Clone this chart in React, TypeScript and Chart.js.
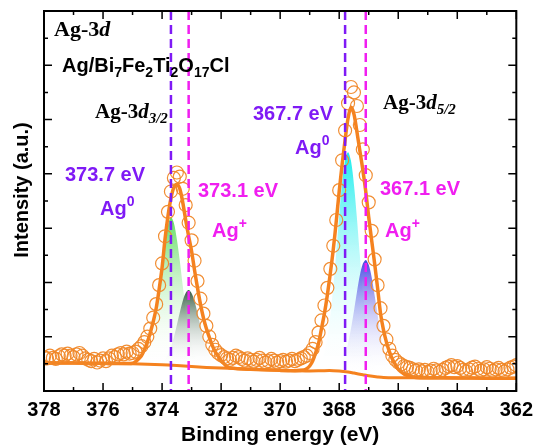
import React, { useEffect, useRef } from 'react';
import { Chart, registerables } from 'chart.js';

Chart.register(...registerables);

const SANS = '"Liberation Sans", Arial, Helvetica, sans-serif';
const SERIF = '"Liberation Serif", "Times New Roman", serif';
const ORANGE = '#F5821F';
const VIOLET = '#7F1AF5';
const MAGENTA = '#F01EF0';

// axis ranges (binding energy reversed)
const X_MIN = 362;
const X_MAX = 378;
const Y_MIN = 0;
const Y_MAX = 14;
const X_TICK_STEP = 2;

// raw XPS counts (open circles), 0.1 eV grid from 378.0 eV down to 362.0 eV
const RAW_START = 378.0;
const RAW_STEP = 0.1;
const rawIntensity = [
  1.25, 1.2, 1.3, 1.22, 1.18, 1.28, 1.35, 1.3, 1.38, 1.3,
  1.25, 1.35, 1.4, 1.3, 1.2, 1.15, 1.1, 1.18, 1.05, 1.12,
  1.2, 1.1, 1.2, 1.3, 1.25, 1.35, 1.4, 1.35, 1.45, 1.38,
  1.4, 1.45, 1.55, 1.65, 1.8, 2.0, 2.3, 2.7, 3.2, 3.9,
  4.7, 5.7, 6.6, 7.35, 7.85, 8.05, 7.9, 7.45, 6.85, 6.2,
  5.55, 4.8, 4.05, 3.4, 2.85, 2.4, 2.0, 1.7, 1.52, 1.4,
  1.32, 1.25, 1.2, 1.15, 1.22, 1.3, 1.25, 1.18, 1.12, 1.2,
  1.15, 1.08, 1.15, 1.22, 1.12, 1.05, 1.1, 1.18, 1.12, 1.05,
  1.1, 1.15, 1.08, 1.12, 1.18, 1.1, 1.15, 1.2, 1.25, 1.3,
  1.4, 1.55, 1.8, 2.15, 2.6, 3.15, 3.8, 4.5, 5.35, 6.3,
  7.4, 8.5, 9.6, 10.6, 11.2, 11.0, 10.5, 9.8, 8.9, 7.95,
  6.95, 5.9, 4.85, 3.9, 3.05, 2.4, 1.9, 1.55, 1.3, 1.15,
  1.05, 0.98, 0.92, 0.88, 0.85, 0.8, 0.75, 0.8, 0.72, 0.78,
  0.7, 0.75, 0.82, 0.76, 0.7, 0.78, 0.85, 0.9, 0.95, 0.88,
  0.92, 0.85, 0.78, 0.72, 0.8, 0.86, 0.9, 0.82, 0.75, 0.8,
  0.88, 0.82, 0.74, 0.8, 0.85, 0.78, 0.72, 0.8, 0.86, 0.9,
  0.95,
];

// fitted envelope (thick orange line)
const envelopeEnergy = [
  378, 377, 376, 375.5, 375.2,
  375.0, 374.9, 374.8, 374.7, 374.6, 374.5, 374.4, 374.3, 374.2, 374.1,
  374.0, 373.9, 373.8, 373.7, 373.6, 373.5, 373.4, 373.3, 373.2, 373.1,
  373.0, 372.9, 372.8, 372.7, 372.6, 372.5, 372.4, 372.3, 372.2, 372.1,
  372.0, 371.9, 371.8, 371.7, 371, 370, 369.5,
  369.2, 369.1, 369.0, 368.9, 368.8, 368.7, 368.6, 368.5, 368.4, 368.3,
  368.2, 368.1, 368.0, 367.9, 367.8, 367.7, 367.6, 367.5, 367.4, 367.3,
  367.2, 367.1, 367.0, 366.9, 366.8, 366.7, 366.6, 366.5, 366.4, 366.3,
  366.2, 366.1, 366.0, 365.9, 365.8, 365.6, 365.4, 365, 364, 363, 362,
];
const envelopeIntensity = [
  1.03, 1.03, 1.02, 1.01, 1.01,
  1.02, 1.08, 1.18, 1.3, 1.52, 1.8, 2.15, 2.55, 3.05, 3.75,
  4.55, 5.6, 6.45, 7.1, 7.5, 7.62, 7.45, 6.95, 6.3, 5.7,
  5.15, 4.45, 3.8, 3.2, 2.7, 2.3, 1.98, 1.68, 1.45, 1.28,
  1.12, 1.0, 0.9, 0.85, 0.8, 0.76, 0.75,
  0.77, 0.82, 0.92, 1.1, 1.4, 1.75, 2.3, 2.86, 3.55, 4.35,
  5.22, 6.25, 7.35, 8.35, 9.25, 10.05, 10.45, 10.2, 9.55, 8.85,
  8.15, 7.35, 6.4, 5.55, 4.7, 3.8, 2.86, 2.25, 1.8, 1.45,
  1.18, 0.98, 0.8, 0.7, 0.62, 0.54, 0.5, 0.49, 0.48, 0.47, 0.47,
];

// Shirley background
const backgroundEnergy = [
  378, 377, 376, 375, 374, 373.5, 373, 372.5, 372, 371, 370, 369.5, 369,
  368.5, 368.2, 368, 367.7, 367.5, 367.2, 367, 366.7, 366.5, 366, 365, 364, 363, 362,
];
const backgroundIntensity = [
  1.03, 1.03, 1.02, 1.0, 0.97, 0.94, 0.9, 0.87, 0.85, 0.8, 0.76, 0.75, 0.74,
  0.75, 0.75, 0.74, 0.7, 0.66, 0.6, 0.56, 0.52, 0.5, 0.49, 0.48, 0.48, 0.47, 0.47,
];

// Ag0 component of Ag-3d3/2 (373.7 eV)
const ag0D32Energy = [
  374.7, 374.6, 374.5, 374.4, 374.3, 374.2, 374.1, 374.0, 373.9, 373.8, 373.7,
  373.6, 373.5, 373.4, 373.3, 373.2, 373.1, 373.0, 372.9, 372.8, 372.7, 372.6,
];
const ag0D32Intensity = [
  1.05, 1.15, 1.35, 1.65, 2.1, 2.75, 3.55, 4.4, 5.4, 6.1, 6.4,
  6.19, 5.6, 4.8, 3.88, 3.02, 2.28, 1.72, 1.35, 1.13, 1.0, 0.9,
];

// Ag+ component of Ag-3d3/2 (373.1 eV)
const agPD32Energy = [
  374.1, 374.0, 373.9, 373.8, 373.7, 373.6, 373.5, 373.4, 373.3, 373.2, 373.1,
  373.0, 372.9, 372.8, 372.7, 372.6, 372.5, 372.4, 372.3, 372.2, 372.1,
];
const agPD32Intensity = [
  1.02, 1.08, 1.17, 1.35, 1.62, 1.98, 2.43, 2.89, 3.32, 3.61, 3.72,
  3.6, 3.31, 2.87, 2.4, 1.95, 1.57, 1.3, 1.11, 0.98, 0.92,
];

// Ag0 component of Ag-3d5/2 (367.7 eV)
const ag0D52Energy = [
  368.7, 368.6, 368.5, 368.4, 368.3, 368.2, 368.1, 368.0, 367.9, 367.8, 367.7,
  367.6, 367.5, 367.4, 367.3, 367.2, 367.1, 367.0, 366.9, 366.8, 366.7,
];
const ag0D52Intensity = [
  0.92, 1.11, 1.44, 1.97, 2.77, 3.84, 5.11, 6.47, 7.67, 8.51, 8.8,
  8.47, 7.6, 6.37, 4.99, 3.69, 2.6, 1.78, 1.24, 0.89, 0.69,
];

// Ag+ component of Ag-3d5/2 (367.1 eV)
const agPD52Energy = [
  368.1, 368.0, 367.9, 367.8, 367.7, 367.6, 367.5, 367.4, 367.3, 367.2, 367.1,
  367.0, 366.9, 366.8, 366.7, 366.6, 366.5, 366.4, 366.3, 366.2, 366.1,
];
const agPD52Intensity = [
  0.83, 0.93, 1.09, 1.36, 1.76, 2.3, 2.95, 3.64, 4.26, 4.69, 4.83,
  4.65, 4.19, 3.53, 2.81, 2.13, 1.56, 1.14, 0.86, 0.68, 0.58,
];

// dashed reference positions (eV)
const ag0Lines = [373.7, 367.8];
const agPlusLines = [373.1, 367.1];

const toPoints = (xs: number[], ys: number[]) => xs.map((x, i) => ({ x, y: ys[i] }));

function gradientFill(topColor: string, vals: number[]) {
  return (ctx: any) => {
    const chart = ctx.chart;
    if (!chart.chartArea) return 'rgba(0,0,0,0)';
    const y = chart.scales.y;
    const yTop = y.getPixelForValue(Math.max(...vals));
    const yBot = y.getPixelForValue(Math.min(...vals));
    const g = chart.ctx.createLinearGradient(0, yTop, 0, yBot);
    g.addColorStop(0, topColor);
    g.addColorStop(1, 'rgba(255,255,255,0)');
    return g;
  };
}

type Run = { t: string; font: string; dy?: number };
function drawRuns(ctx: CanvasRenderingContext2D, x: number, y: number, runs: Run[], color: string) {
  ctx.save();
  ctx.fillStyle = color;
  ctx.textAlign = 'left';
  ctx.textBaseline = 'alphabetic';
  let cx = x;
  for (const r of runs) {
    ctx.font = r.font;
    ctx.fillText(r.t, cx, y + (r.dy || 0));
    cx += ctx.measureText(r.t).width;
  }
  ctx.restore();
}

const framePlugin = {
  id: 'frameAndMarks',
  afterDatasetsDraw(chart: any) {
    const { ctx, chartArea: a, scales } = chart;
    const xs = scales.x;
    const ys = scales.y;
    ctx.save();
    // dashed reference lines
    ctx.lineWidth = 2.5;
    ctx.setLineDash([9, 5]);
    const drawV = (e: number, c: string) => {
      const px = xs.getPixelForValue(e);
      ctx.strokeStyle = c;
      ctx.beginPath();
      ctx.moveTo(px, a.top);
      ctx.lineTo(px, a.bottom);
      ctx.stroke();
    };
    ag0Lines.forEach((e) => drawV(e, VIOLET));
    agPlusLines.forEach((e) => drawV(e, MAGENTA));
    ctx.setLineDash([]);
    // frame
    ctx.strokeStyle = '#000';
    ctx.lineWidth = 2;
    ctx.strokeRect(a.left, a.top, a.right - a.left, a.bottom - a.top);
    // inward ticks
    ctx.lineWidth = 1.5;
    ctx.beginPath();
    for (let v = X_MIN; v <= X_MAX; v += 1) {
      const px = xs.getPixelForValue(v);
      const len = v % 2 === 0 ? 8 : 4;
      ctx.moveTo(px, a.bottom);
      ctx.lineTo(px, a.bottom - len);
      ctx.moveTo(px, a.top);
      ctx.lineTo(px, a.top + len);
    }
    for (let v = Y_MIN; v <= Y_MAX; v += 1) {
      const py = ys.getPixelForValue(v);
      const len = v % 2 === 0 ? 8 : 4;
      ctx.moveTo(a.left, py);
      ctx.lineTo(a.left + len, py);
      ctx.moveTo(a.right, py);
      ctx.lineTo(a.right - len, py);
    }
    ctx.stroke();
    ctx.restore();
  },
  afterDraw(chart: any) {
    const ctx: CanvasRenderingContext2D = chart.ctx;
    const B = (s: number) => `bold ${s}px ${SANS}`;
    const S = (s: number) => `bold ${s}px ${SERIF}`;
    const SI = (s: number) => `italic bold ${s}px ${SERIF}`;
    drawRuns(ctx, 54, 36, [{ t: 'Ag-3', font: S(22) }, { t: 'd', font: SI(22) }], '#000');
    drawRuns(ctx, 62, 72, [
      { t: 'Ag/Bi', font: B(20) }, { t: '7', font: B(14), dy: 5 },
      { t: 'Fe', font: B(20) }, { t: '2', font: B(14), dy: 5 },
      { t: 'Ti', font: B(20) }, { t: '2', font: B(14), dy: 5 },
      { t: 'O', font: B(20) }, { t: '17', font: B(14), dy: 5 },
      { t: 'Cl', font: B(20) },
    ], '#000');
    drawRuns(ctx, 95, 118, [{ t: 'Ag-3', font: S(21) }, { t: 'd', font: SI(21) }, { t: '3/2', font: SI(15), dy: 5 }], '#000');
    drawRuns(ctx, 383, 109, [{ t: 'Ag-3', font: S(21) }, { t: 'd', font: SI(21) }, { t: '5/2', font: SI(15), dy: 5 }], '#000');
    drawRuns(ctx, 65, 181, [{ t: '373.7 eV', font: B(20) }], VIOLET);
    drawRuns(ctx, 100, 215, [{ t: 'Ag', font: B(20) }, { t: '0', font: B(14), dy: -9 }], VIOLET);
    drawRuns(ctx, 198, 197, [{ t: '373.1 eV', font: B(20) }], MAGENTA);
    drawRuns(ctx, 212, 237, [{ t: 'Ag', font: B(20) }, { t: '+', font: B(14), dy: -9 }], MAGENTA);
    drawRuns(ctx, 253, 120, [{ t: '367.7 eV', font: B(20) }], VIOLET);
    drawRuns(ctx, 295, 154, [{ t: 'Ag', font: B(20) }, { t: '0', font: B(14), dy: -9 }], VIOLET);
    drawRuns(ctx, 380, 195, [{ t: '367.1 eV', font: B(20) }], MAGENTA);
    drawRuns(ctx, 385, 237, [{ t: 'Ag', font: B(20) }, { t: '+', font: B(14), dy: -9 }], MAGENTA);
    // y-axis title
    ctx.save();
    ctx.translate(22, 190);
    ctx.rotate(-Math.PI / 2);
    ctx.font = B(20);
    ctx.fillStyle = '#000';
    ctx.textAlign = 'center';
    ctx.textBaseline = 'middle';
    ctx.fillText('Intensity (a.u.)', 0, 0);
    ctx.restore();
  },
};

export default function App() {
  const ref = useRef<HTMLCanvasElement | null>(null);
  useEffect(() => {
    if (!ref.current) return;
    const rawPoints = rawIntensity.map((y, i) => ({ x: +(RAW_START - i * RAW_STEP).toFixed(1), y }));
    const chart = new Chart(ref.current, {
      type: 'line',
      data: {
        datasets: [
          {
            label: 'Raw',
            data: rawPoints,
            showLine: false,
            pointRadius: 6.5,
            pointStyle: 'circle',
            pointBorderColor: 'rgba(240,135,40,0.95)',
            pointBackgroundColor: 'rgba(0,0,0,0)',
            pointBorderWidth: 1.2,
            order: 0,
          },
          {
            label: 'Envelope',
            data: toPoints(envelopeEnergy, envelopeIntensity),
            borderColor: ORANGE,
            borderWidth: 3.5,
            pointRadius: 0,
            tension: 0.3,
            fill: false,
            order: 1,
          },
          {
            label: 'Background',
            data: toPoints(backgroundEnergy, backgroundIntensity),
            borderColor: ORANGE,
            borderWidth: 3,
            pointRadius: 0,
            tension: 0.3,
            fill: false,
            order: 2,
          },
          {
            label: 'Ag+ 3d3/2',
            data: toPoints(agPD32Energy, agPD32Intensity),
            borderWidth: 0,
            borderColor: 'rgba(0,0,0,0)',
            pointRadius: 0,
            tension: 0.3,
            fill: 2,
            backgroundColor: gradientFill('rgba(45,85,60,0.95)', agPD32Intensity),
            order: 3,
          },
          {
            label: 'Ag+ 3d5/2',
            data: toPoints(agPD52Energy, agPD52Intensity),
            borderWidth: 0,
            borderColor: 'rgba(0,0,0,0)',
            pointRadius: 0,
            tension: 0.3,
            fill: 2,
            backgroundColor: gradientFill('rgba(60,60,225,0.95)', agPD52Intensity),
            order: 3,
          },
          {
            label: 'Ag0 3d3/2',
            data: toPoints(ag0D32Energy, ag0D32Intensity),
            borderWidth: 0,
            borderColor: 'rgba(0,0,0,0)',
            pointRadius: 0,
            tension: 0.3,
            fill: 2,
            backgroundColor: gradientFill('rgba(70,215,70,0.85)', ag0D32Intensity),
            order: 4,
          },
          {
            label: 'Ag0 3d5/2',
            data: toPoints(ag0D52Energy, ag0D52Intensity),
            borderWidth: 0,
            borderColor: 'rgba(0,0,0,0)',
            pointRadius: 0,
            tension: 0.3,
            fill: 2,
            backgroundColor: gradientFill('rgba(0,235,235,0.9)', ag0D52Intensity),
            order: 4,
          },
        ],
      },
      options: {
        responsive: false,
        animation: false,
        devicePixelRatio: 1,
        layout: { padding: { left: 44, top: 11, right: 20, bottom: 0 } },
        plugins: { legend: { display: false }, tooltip: { enabled: false } },
        scales: {
          x: {
            type: 'linear',
            reverse: true,
            min: X_MIN,
            max: X_MAX,
            ticks: {
              stepSize: X_TICK_STEP,
              color: '#000',
              padding: 7,
              maxRotation: 0,
              autoSkip: false,
              font: { family: SANS, size: 20, weight: 'bold' },
            },
            grid: { display: false, drawTicks: false },
            border: { display: false },
            title: {
              display: true,
              text: 'Binding energy (eV)',
              color: '#000',
              font: { family: SANS, size: 21, weight: 'bold', lineHeight: 1.0 },
              padding: { top: 0, bottom: 0 },
            },
            afterFit: (s: any) => {
              s.height = 55;
            },
          },
          y: {
            display: false,
            min: Y_MIN,
            max: Y_MAX,
          },
        },
      } as any,
      plugins: [framePlugin],
    });
    return () => chart.destroy();
  }, []);
  return (
    <div style={{ position: 'fixed', left: 0, top: 0, width: 540, height: 446, background: '#fff' }}>
      <canvas ref={ref} width={540} height={446} />
    </div>
  );
}
